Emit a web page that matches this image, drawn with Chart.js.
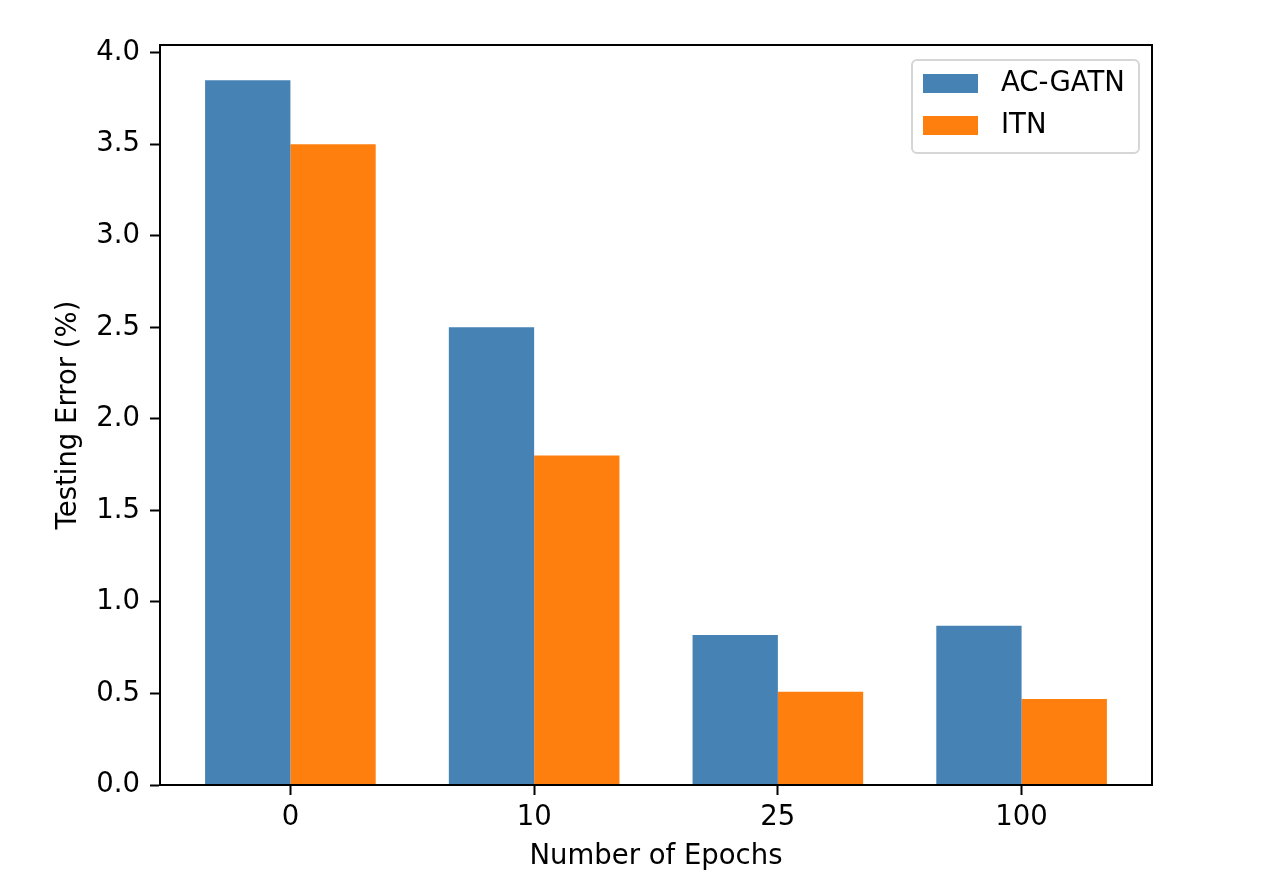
<!DOCTYPE html>
<html>
<head>
<meta charset="utf-8">
<script src="https://cdn.jsdelivr.net/npm/chart.js@4.4.1/dist/chart.umd.min.js"></script>
<style>
  html, body { margin: 0; padding: 0; background: #fff; }
  #wrap { width: 1280px; height: 891px; }
</style>
</head>
<body>
<div id="wrap"><canvas id="epochChart" width="1280" height="891"></canvas></div>
<script>
const epochs = ["0", "10", "25", "100"];
const acGatnError = [3.85, 2.5, 0.82, 0.87];
const itnError = [3.5, 1.8, 0.51, 0.47];
const yTicks = [0, 0.5, 1.0, 1.5, 2.0, 2.5, 3.0, 3.5, 4.0];

const FONT = "'DejaVu Sans', sans-serif";
const SIZE = 27.5;

// box round the plot, like matplotlib spines
const frame = {
  id: "frame",
  afterDraw(chart) {
    const { ctx, chartArea: a } = chart;
    ctx.save();
    ctx.strokeStyle = "#000";
    ctx.lineWidth = 2;
    ctx.strokeRect(a.left, a.top, a.right - a.left, a.bottom - a.top);
    ctx.restore();
  },
};

// legend inside the upper right corner
const innerLegend = {
  id: "innerLegend",
  afterDraw(chart) {
    const { ctx, chartArea: a } = chart;
    const w = 227, h = 93;
    const x = a.right - 13 - w, y = a.top + 15;
    ctx.save();
    ctx.beginPath();
    ctx.roundRect(x, y, w, h, 5);
    ctx.fillStyle = "rgba(255,255,255,0.8)";
    ctx.fill();
    ctx.strokeStyle = "#d6d6d6";
    ctx.lineWidth = 2;
    ctx.stroke();
    ctx.font = SIZE + "px " + FONT;
    ctx.textBaseline = "middle";
    chart.data.datasets.forEach((ds, i) => {
      const rowY = y + 23 + i * 42;
      ctx.fillStyle = ds.backgroundColor;
      ctx.fillRect(x + 11, rowY - 9, 55, 19);
      ctx.fillStyle = "#000";
      ctx.fillText(ds.label, x + 89, rowY + 1);
    });
    ctx.restore();
  },
};

new Chart(document.getElementById("epochChart"), {
  type: "bar",
  data: {
    datasets: [
      {
        label: "AC-GATN",
        data: acGatnError.map((v, i) => ({ x: i, y: v })),
        backgroundColor: "#4682b4",
        borderWidth: 0,
      },
      {
        label: "ITN",
        data: itnError.map((v, i) => ({ x: i, y: v })),
        backgroundColor: "#ff7f0e",
        borderWidth: 0,
      },
    ],
  },
  options: {
    responsive: false,
    animation: false,
    layout: { padding: { left: 0, top: 45, right: 128, bottom: 0 } },
    categoryPercentage: 0.7,
    barPercentage: 1.0,
    plugins: {
      legend: { display: false },
      tooltip: { enabled: false },
    },
    scales: {
      x: {
        type: "linear",
        offset: false,
        min: -0.535,
        max: 3.535,
        afterBuildTicks: (scale) => {
          scale.ticks = epochs.map((e, i) => ({ value: i }));
        },
        afterFit: (scale) => {
          scale.height = 106;
        },
        ticks: {
          color: "#000",
          font: { family: FONT, size: SIZE },
          padding: 6,
          callback: (v) => epochs[v],
        },
        grid: {
          drawOnChartArea: false,
          offset: false,
          tickLength: 10,
          tickColor: "#000",
          tickWidth: 2,
        },
        border: { color: "#000", width: 2 },
        title: {
          display: true,
          text: "Number of Epochs",
          color: "#000",
          font: { family: FONT, size: SIZE },
          padding: { top: 0, bottom: 18 },
        },
      },
      y: {
        min: 0,
        max: 4.0425,
        afterBuildTicks: (scale) => {
          scale.ticks = yTicks.map((v) => ({ value: v }));
        },
        afterFit: (scale) => {
          scale.width = 160;
        },
        ticks: {
          color: "#000",
          font: { family: FONT, size: SIZE },
          padding: 10,
          callback: (v) => v.toFixed(1),
        },
        grid: {
          drawOnChartArea: false,
          tickLength: 10,
          tickColor: "#000",
          tickWidth: 2,
        },
        border: { color: "#000", width: 2 },
        title: {
          display: true,
          text: "Testing Error (%)",
          color: "#000",
          font: { family: FONT, size: SIZE },
          padding: { top: 52, bottom: 0 },
        },
      },
    },
  },
  plugins: [frame, innerLegend],
});
</script>
</body>
</html>
